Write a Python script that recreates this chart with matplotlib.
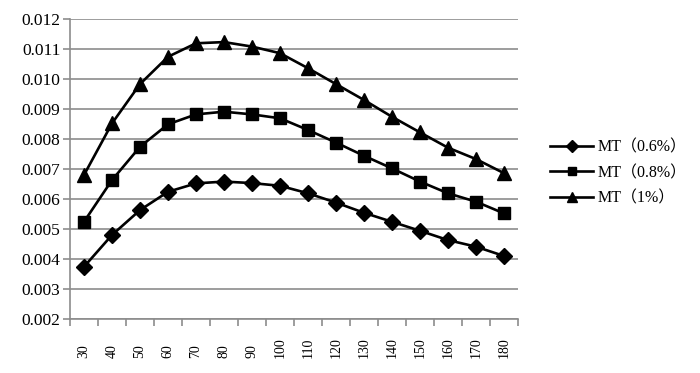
import matplotlib
matplotlib.use("Agg")
import matplotlib.pyplot as plt
import numpy as np

categories = ["30", "40", "50", "60", "70", "80", "90", "100", "110", "120",
              "130", "140", "150", "160", "170", "180"]
mt_06 = [0.00374, 0.00480, 0.00563, 0.00624, 0.00652, 0.00658, 0.00653, 0.00644,
         0.00619, 0.00588, 0.00554, 0.00524, 0.00494, 0.00463, 0.00441, 0.00410]
mt_08 = [0.00524, 0.00663, 0.00774, 0.00849, 0.00882, 0.00891, 0.00882, 0.00869,
         0.00830, 0.00788, 0.00744, 0.00702, 0.00658, 0.00619, 0.00591, 0.00552]
mt_10 = [0.00680, 0.00852, 0.00983, 0.01074, 0.01119, 0.01123, 0.01108, 0.01086,
         0.01036, 0.00983, 0.00930, 0.00874, 0.00822, 0.00771, 0.00733, 0.00686]
labels = ["MT（0.6%）", "MT（0.8%）", "MT（1%）"]
yticks = [0.002, 0.003, 0.004, 0.005, 0.006, 0.007, 0.008, 0.009, 0.010, 0.011, 0.012]

fam = ["Liberation Serif", "Noto Sans CJK SC", "DejaVu Sans"]
plt.rcParams["font.family"] = fam

fig = plt.figure(figsize=(7.0, 3.73), dpi=100)
ax = fig.add_axes([0.1, 0.1448, 0.64, 0.8043])

x = np.arange(len(categories))
ax.plot(x, mt_06, color="black", lw=1.9, marker="D", ms=8.5, label=labels[0])
ax.plot(x, mt_08, color="black", lw=1.9, marker="s", ms=9, label=labels[1])
ax.plot(x, mt_10, color="black", lw=1.9, marker="^", ms=10, label=labels[2])

ax.set_xlim(-0.5, len(categories) - 0.5)
ax.set_ylim(0.002, 0.012)
ax.set_yticks(yticks)
ax.set_yticklabels([f"{v:.3f}" for v in yticks], fontsize=12.5)
ax.yaxis.grid(True, color="#8c8c8c", lw=1.2)
ax.set_axisbelow(True)

ax.set_xticks(x)
ax.set_xticklabels(categories, rotation=90, fontsize=10, va="bottom")
ax.tick_params(axis="x", length=0, pad=28)
ax.set_xticks(np.arange(len(categories) + 1) - 0.5, minor=True)
ax.tick_params(axis="x", which="minor", length=5, color="#8c8c8c", width=1.2)
ax.tick_params(axis="y", length=5, color="#8c8c8c", width=1.2, pad=2)

for s in ["top", "right"]:
    ax.spines[s].set_visible(False)
for s in ["left", "bottom"]:
    ax.spines[s].set_color("#8c8c8c")
    ax.spines[s].set_linewidth(1.2)

leg = fig.legend(loc="center left", bbox_to_anchor=(0.786, 0.536), frameon=False,
                 fontsize=11.5, handlelength=2.7, handletextpad=0.25,
                 labelspacing=0.6, borderpad=0, borderaxespad=0, markerscale=0.7)

fig.savefig("out.png", dpi=100)
